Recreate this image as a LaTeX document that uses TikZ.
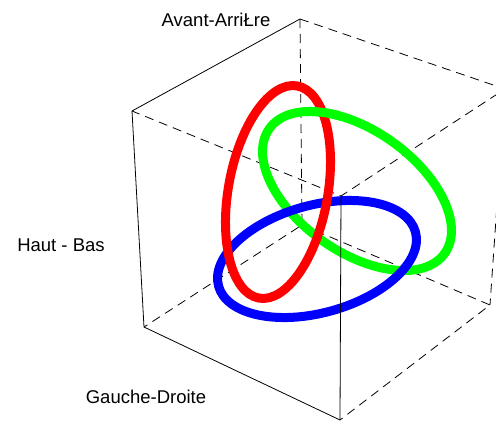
\documentclass[tikz,border=0pt]{standalone}
\usepackage{fontspec}
\setmainfont{Liberation Sans}
\usetikzlibrary{positioning}
\definecolor{ringred}  {RGB}{255,0,0}
\definecolor{ringgreen}{RGB}{0,255,0}
\definecolor{ringblue} {RGB}{0,0,255}
\tikzset{
  frontedge/.style={draw=black, line width=0.8pt},
  backedge/.style ={draw=black, line width=0.8pt, dash pattern=on 9pt off 6pt},
  ring/.style     ={line width=9pt},
  axislabel/.style={font=\fontsize{18.5}{20}\selectfont, inner sep=0pt,
                    anchor=base},
}

\begin{document}
\begin{tikzpicture}[x=1pt, y=-1pt]
  \useasboundingbox (0,0) rectangle (496,421);
  \clip (0,0) rectangle (496,421);
  % box corners
  \coordinate (tback)  at (300,19);
  \coordinate (tleft)  at (132,111);
  \coordinate (tfront) at (341,196);
  \coordinate (tright) at (505,89);
  \coordinate (bback)  at (302,225);
  \coordinate (bleft)  at (144,327);
  \coordinate (bfront) at (340,420);
  \coordinate (bright) at (490,305);

  % hidden edges
  \draw[backedge] (tback) -- (tright) -- (tfront) -- (tleft);
  \draw[backedge] (tback) -- (bback) -- (bleft);
  \draw[backedge] (bback) -- (bright) -- (bfront);
  \draw[backedge] (tright) -- (bright);

  % rings
  \draw[ring, ringgreen, rotate around={-35.4:(357,191)}]
        (357,191) ellipse (107.6 and 60.6);
  \draw[ring, ringblue, rotate around={15.4:(317,259)}]
        (317,259) ellipse (102.1 and 53.8);
  \draw[ring, ringred, rotate around={79.8:(278,192)}]
        (278,192) ellipse (107.8 and 49.7);
  \begin{scope}
    \clip (306,96) rectangle (340,128);
    \draw[ring, ringgreen, rotate around={-35.4:(357,191)}]
          (357,191) ellipse (107.6 and 60.6);
  \end{scope}

  % visible edges
  \draw[frontedge] (tback) -- (tleft) -- (bleft) -- (bfront);
  \draw[frontedge] (tfront) -- (bfront);

  \node[axislabel] (avant)  at (216,26)  {Avant-ArriŁre};
  \node[axislabel] (haut)   at (61,251)  {Haut - Bas};
  \node[axislabel] (gauche) at (146,403) {Gauche-Droite};
\end{tikzpicture}
\end{document}
